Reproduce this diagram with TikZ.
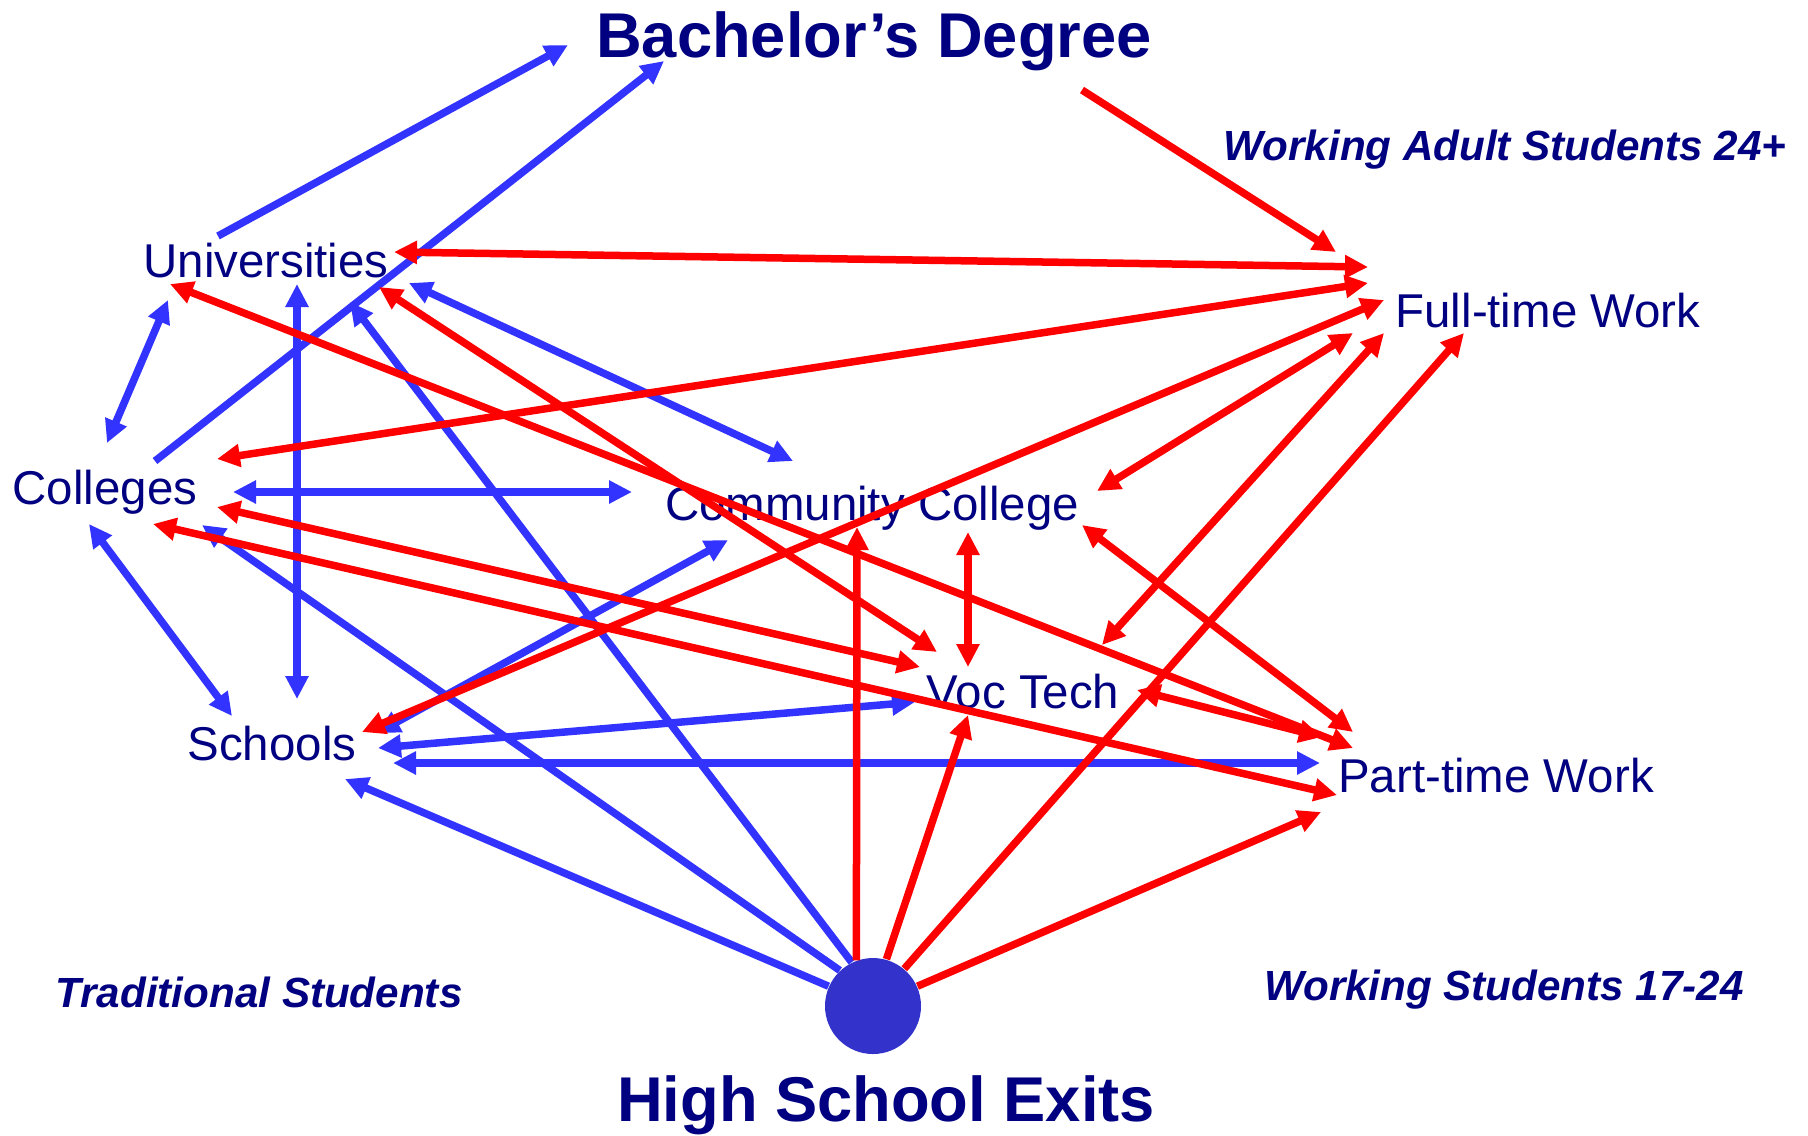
\documentclass[tikz,border=0pt]{standalone}
\usepackage{fontspec}
\setmainfont{Liberation Sans}
\usepackage{tikz}
\usetikzlibrary{arrows.meta}
\definecolor{lblnavy}{HTML}{000080}
\definecolor{arrblue}{HTML}{3333FF}
\definecolor{arrred}{HTML}{FF0000}
\definecolor{dotblue}{HTML}{3333CC}

\begin{document}
\begin{tikzpicture}[x=0.1mm, y=-0.1mm,
  >={Triangle[length=2.3mm,width=2.2mm]},
  place/.style={anchor=base, text=lblnavy, inner sep=0pt, font=\fontsize{13.5}{16}\selectfont},
  title/.style={anchor=base, text=lblnavy, inner sep=0pt, font=\fontsize{18}{22}\selectfont\bfseries},
  group/.style={anchor=base, text=lblnavy, inner sep=0pt, font=\fontsize{12}{14}\selectfont\bfseries\itshape},
  bluearrow/.style={arrblue, line width=0.75mm},
  redarrow/.style={arrred, line width=0.75mm}]
  \useasboundingbox (0,0) rectangle (1808,1135);
  \node[title] (bach)  at (874,57)   {Bachelor’s Degree};
  \node[title] (exits) at (886,1121) {High School Exits};
  \node[place] (uni) at (266,277)  {Universities};
  \node[place] (col) at (105,504)  {Colleges};
  \node[place] (cc)  at (872,520)  {Community College};
  \node[place] (voc) at (1023,708) {Voc Tech};
  \node[place] (sch) at (272,760)  {Schools};
  \node[place] (ft)  at (1548,327) {Full-time Work};
  \node[place] (pt)  at (1496,792) {Part-time Work};
  \node[group] (adult) at (1505,160) {Working Adult Students 24+};
  \node[group] (trad)  at (259,1007) {Traditional Students};
  \node[group] (young) at (1504,1000) {Working Students 17-24};
  \node[circle, fill=dotblue, minimum size=9.6mm, inner sep=0pt] (hs) at (873,1006) {};

  % traditional routes
  \draw[bluearrow,->] ([shift={(-48,-41)}]uni.base) -- ([shift={(-306,-12)}]bach.base);
  \draw[bluearrow,->] ([shift={(50,-43)}]col.base) -- ([shift={(-210,4)}]bach.base);
  \draw[bluearrow,<->] ([shift={(2,-61)}]col.base) -- ([shift={(-98,23)}]uni.base);
  \draw[bluearrow,<->] ([shift={(31,7)}]uni.base) -- ([shift={(25,-61)}]sch.base);
  \draw[bluearrow,<->] ([shift={(128,-12)}]col.base) -- ([shift={(-240,-28)}]cc.base);
  \draw[bluearrow,<->] ([shift={(143,6)}]uni.base) -- ([shift={(-79,-59)}]cc.base);
  \draw[bluearrow,<->] ([shift={(-16,20)}]col.base) -- ([shift={(-40,-44)}]sch.base);
  \draw[bluearrow,->] (hs.116) -- ([shift={(84,25)}]uni.base);
  \draw[bluearrow,->] (hs.133) -- ([shift={(97,21)}]col.base);
  \draw[bluearrow,->] (hs.156) -- ([shift={(73,19)}]sch.base);
  \draw[bluearrow,<->] ([shift={(106,-12)}]sch.base) -- ([shift={(-108,-6)}]voc.base);
  \draw[bluearrow,<->] ([shift={(121,3)}]sch.base) -- ([shift={(-176,-29)}]pt.base);
  \draw[bluearrow,<->] ([shift={(105,-27)}]sch.base) -- ([shift={(-144,20)}]cc.base);

  % working routes
  \draw[redarrow,->] ([shift={(208,33)}]bach.base) -- ([shift={(-212,-75)}]ft.base);
  \draw[redarrow,<->] ([shift={(128,-25)}]uni.base) -- ([shift={(-180,-60)}]ft.base);
  \draw[redarrow,<->] ([shift={(112,-45)}]col.base) -- ([shift={(-180,-44)}]ft.base);
  \draw[redarrow,<->] ([shift={(90,-28)}]sch.base) -- ([shift={(-164,-27)}]ft.base);
  \draw[redarrow,<->] ([shift={(225,-29)}]cc.base) -- ([shift={(-195,6)}]ft.base);
  \draw[redarrow,<->] ([shift={(79,-63)}]voc.base) -- ([shift={(-164,6)}]ft.base);
  \draw[redarrow,->] (hs.50) -- ([shift={(-84,6)}]ft.base);
  \draw[redarrow,->] (hs.110) -- ([shift={(-15,7)}]cc.base);
  \draw[redarrow,<->] ([shift={(96,12)}]cc.base) -- ([shift={(-55,-41)}]voc.base);
  \draw[redarrow,->] (hs.74) -- ([shift={(-55,7)}]voc.base);
  \draw[redarrow,->] (hs.24) -- ([shift={(-175,20)}]pt.base);
  \draw[redarrow,<->] ([shift={(113,10)}]uni.base) -- ([shift={(-86,-56)}]voc.base);
  \draw[redarrow,<->] ([shift={(-96,7)}]uni.base) -- ([shift={(-143,-44)}]pt.base);
  \draw[redarrow,<->] ([shift={(112,3)}]col.base) -- ([shift={(-103,-41)}]voc.base);
  \draw[redarrow,<->] ([shift={(48,20)}]col.base) -- ([shift={(-159,3)}]pt.base);
  \draw[redarrow,<->] ([shift={(210,5)}]cc.base) -- ([shift={(-143,-60)}]pt.base);
  \draw[redarrow,<->] ([shift={(114,-18)}]voc.base) -- ([shift={(-174,-55)}]pt.base);
\end{tikzpicture}
\end{document}
